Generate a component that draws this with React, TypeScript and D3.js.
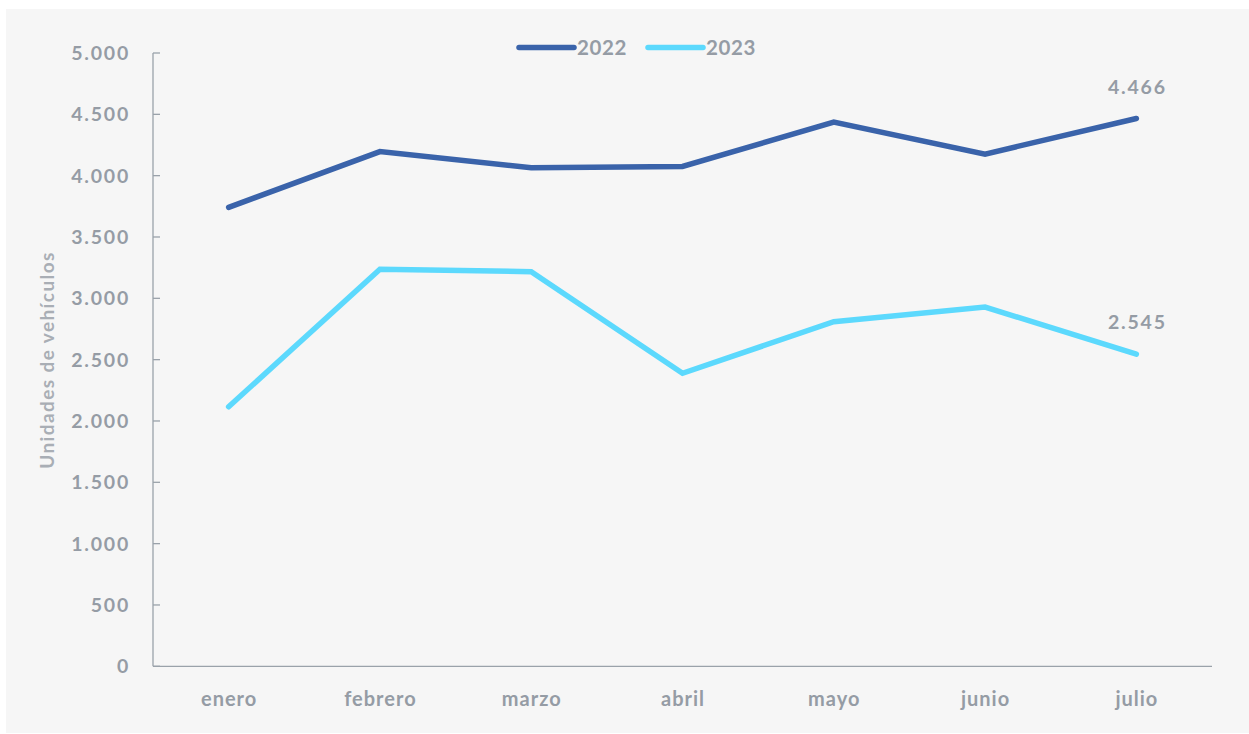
import React from "react";
import * as d3 from "d3";

const months = ["enero", "febrero", "marzo", "abril", "mayo", "junio", "julio"];
const series2022 = [3742, 4196, 4065, 4075, 4437, 4176, 4466];
const series2023 = [2116, 3237, 3217, 2389, 2809, 2929, 2545];
const yTicks = [0, 500, 1000, 1500, 2000, 2500, 3000, 3500, 4000, 4500, 5000];
const seriesNames = ["2022", "2023"];
const seriesColors = ["#3a63aa", "#5cd9fd"];

const W = 1249;
const H = 734;
const left = 153;
const right = 1212;
const top = 53;
const bottom = 666.3;
const FONT = "Lato, 'Open Sans', sans-serif";
const TEXT = "#959ca5";

const fmt = (v: number) => d3.format(",")(v).replace(/,/g, ".");

export default function App() {
  const x = d3.scaleBand<string>().domain(months).range([left, right]);
  const y = d3.scaleLinear().domain([0, 5000]).range([bottom, top]);
  const line = d3
    .line<number>()
    .x((_, i) => (x(months[i]) as number) + x.bandwidth() / 2)
    .y((d) => y(d));
  const all = [series2022, series2023];
  const last = months.length - 1;
  const lastX = (x(months[last]) as number) + x.bandwidth() / 2;

  return (
    <svg
      width={W}
      height={H}
      style={{ position: "absolute", left: 0, top: 0, display: "block" }}
      fontFamily={FONT}
    >
      <rect x={0} y={0} width={W} height={H} fill="#ffffff" />
      <rect x={6} y={9} width={W - 6} height={724} fill="#f6f6f6" />

      {/* y axis */}
      <line x1={left} x2={left} y1={top} y2={bottom} stroke="#9aa2aa" strokeWidth={1.3} />
      {yTicks.map((t) => (
        <g key={t}>
          <line x1={left} x2={left + 7} y1={y(t)} y2={y(t)} stroke="#9aa2aa" strokeWidth={1.3} />
          <text
            x={130}
            y={y(t)}
            dy="0.36em"
            textAnchor="end"
            fontSize={19.5}
            fontWeight={700}
            letterSpacing={1.8}
            fill={TEXT}
          >
            {fmt(t)}
          </text>
        </g>
      ))}
      {/* x axis */}
      <line x1={left} x2={right} y1={bottom} y2={bottom} stroke="#9aa2aa" strokeWidth={1.3} />
      {months.map((m) => (
        <text
          key={m}
          x={(x(m) as number) + x.bandwidth() / 2 + 0.5}
          y={706}
          textAnchor="middle"
          fontSize={20}
          fontWeight={700}
          letterSpacing={1}
          fill={TEXT}
        >
          {m}
        </text>
      ))}

      <text
        transform={`translate(54,360) rotate(-90)`}
        textAnchor="middle"
        fontSize={19}
        fontWeight={700}
        letterSpacing={1.4}
        fill="#a9aeb5"
      >
        Unidades de vehículos
      </text>

      {all.map((s, i) => (
        <path
          key={i}
          d={line(s) || ""}
          fill="none"
          stroke={seriesColors[i]}
          strokeWidth={5.5}
          strokeLinecap="round"
          strokeLinejoin="miter"
        />
      ))}

      {all.map((s, i) => (
        <text
          key={"lab" + i}
          x={lastX + 1}
          y={y(s[last]) - 25}
          textAnchor="middle"
          fontSize={19.5}
          fontWeight={700}
          letterSpacing={1.8}
          fill={TEXT}
        >
          {fmt(s[last])}
        </text>
      ))}

      {/* legend */}
      {seriesNames.map((n, i) => {
        const lx = 519 + i * 129;
        return (
          <g key={n}>
            <line
              x1={lx}
              x2={lx + 55}
              y1={47.5}
              y2={47.5}
              stroke={seriesColors[i]}
              strokeWidth={5.5}
              strokeLinecap="round"
            />
            <text x={lx + 58} y={55} fontSize={20.5} fontWeight={700} letterSpacing={0.6} fill={TEXT}>
              {n}
            </text>
          </g>
        );
      })}
    </svg>
  );
}
